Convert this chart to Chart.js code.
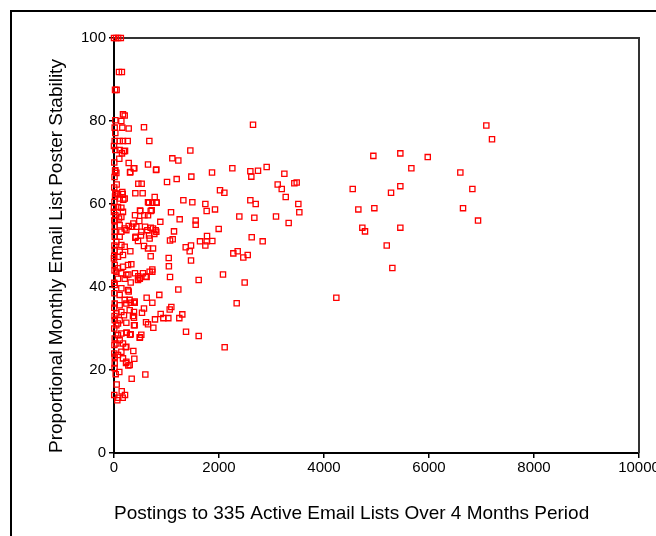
<!DOCTYPE html>
<html>
<head>
<meta charset="utf-8">
<script src="https://cdn.jsdelivr.net/npm/chart.js@4"></script>
<style>
  html, body { margin: 0; padding: 0; background: #fff; }
  #wrap { position: relative; width: 656px; height: 536px; overflow: hidden; }
  #frame { position: absolute; left: 10px; top: 10px; width: 700px; height: 600px;
           border-left: 2px solid #000; border-top: 2px solid #000; }
  #chart { position: absolute; left: 0; top: 0; }
</style>
</head>
<body>
<div id="wrap">
  <div id="frame"></div>
  <canvas id="chart" width="656" height="536"></canvas>
</div>
<script>
// postings per list over 4 months (x) and stability % (y)
const postings = [
  0, 40, 80, 130, 95, 150, 20, 50, 171, 204,
  140, 25, 2648, 13, 158, 280, 571, 25, 673, 13,
  108, 171, 261, 1454, 25, 108, 190, 152, 210, 101,
  1111, 1225, 280, 648, 387, 305, 800, 2254, 2597, 2743,
  2616, 2908, 1867, 1473, 3245, 20, 45, 1194, 1010, 463,
  527, 3435, 3480, 3118, 3195, 3271, 2019, 2102, 406, 546,
  45, 166, 20, 177, 775, 1321, 1492, 1740, 1765, 1924,
  2597, 2699, 3511, 3530, 667, 730, 813, 718, 501, 1086,
  400, 578, 1251, 1556, 1556, 2387, 2673, 3086, 3327, 882,
  368, 482, 1994, 1143, 794, 768, 667, 591, 699, 406,
  514, 1118, 2623, 2832, 1638, 1772, 1766, 1873, 1740, 1366,
  1467, 1442, 2273, 2356, 2463, 2547, 1042, 1045, 1467, 730,
  2076, 2489, 1613, 1067, 730, 622, 495, 463, 400, 273,
  1225, 2337, 863, 622, 730, 1092, 1061, 1035, 940, 1301,
  1244, 889, 781, 749, 571, 533, 610, 648, 381, 381,
  381, 1372, 1613, 2108, 495, 520, 305, 242, 368, 387,
  223, 273, 229, 597, 337, 32, 101, 51, 210, 147,
  63, 82, 166, 7092, 7200, 4940, 5454, 5976, 5664, 6597,
  4547, 5454, 5277, 6826, 4654, 4959, 6648, 6934, 4730, 4781,
  5454, 5195, 5302, 4235, 25, 375, 806, 311, 51, 25,
  76, 158, 204, 108, 648, 806, 699, 495, 648, 0,
  76, 140, 0, 171, 25, 140, 13, 95, 13, 108,
  204, 280, 343, 13, 140, 235, 425, 635, 743, 806,
  520, 1067, 413, 679, 457, 571, 648, 743, 699, 13,
  108, 44, 140, 204, 13, 108, 171, 76, 0, 311,
  13, 76, 171, 267, 330, 44, 140, 235, 457, 552,
  679, 76, 204, 318, 13, 140, 267, 108, 280, 204,
  298, 394, 603, 490, 394, 235, 76, 44, 13, 108,
  490, 318, 235, 140, 76, 13, 108, 171, 44, 235,
  140, 76, 171, 235, 299, 13, 13, 13, 108, 235,
  318, 394, 44, 140, 190, 299, 381, 362, 5, 10,
  5, 0, 8, 5, 8, 5, 10, 5, 8, 5,
  10, 5, 8, 5, 10, 5
];
const stability = [
  100, 100, 100, 100, 91.8, 91.8, 87.5, 87.5, 81.6, 81.3,
  80.0, 80.2, 79.1, 78.4, 78.4, 78.2, 78.5, 77.1, 75.2, 75.2,
  75.2, 75.2, 75.2, 72.9, 73.0, 73.0, 72.7, 72.2, 72.8, 70.9,
  71.0, 70.5, 69.9, 69.5, 68.6, 67.6, 68.2, 68.6, 67.9, 68.0,
  66.6, 68.9, 67.6, 66.6, 67.3, 68.0, 67.5, 66.0, 65.3, 64.9,
  64.9, 65.0, 65.2, 64.7, 63.6, 61.7, 63.3, 62.7, 62.6, 62.6,
  62.5, 62.4, 61.8, 61.0, 61.7, 60.9, 60.4, 60.0, 58.3, 58.7,
  60.9, 60.0, 60.0, 58.0, 60.3, 60.3, 60.3, 58.5, 58.3, 58.0,
  57.3, 57.3, 56.3, 56.0, 55.0, 57.0, 56.7, 57.0, 55.4, 55.7,
  55.3, 55.9, 54.0, 53.4, 53.7, 52.8, 52.4, 54.5, 54.3, 51.9,
  52.4, 51.5, 52.0, 51.0, 51.0, 52.3, 51.0, 51.1, 50.0, 49.6,
  50.0, 48.6, 48.1, 48.6, 47.1, 47.7, 47.0, 45.0, 46.4, 44.2,
  43.0, 41.1, 41.7, 42.4, 43.7, 42.4, 42.2, 42.6, 43.3, 43.0,
  39.4, 36.1, 38.1, 37.4, 36.2, 35.2, 34.6, 32.5, 32.5, 33.4,
  32.5, 33.5, 32.2, 30.2, 34.8, 33.8, 31.5, 31.0, 30.8, 32.6,
  36.2, 29.2, 28.2, 25.5, 27.9, 28.5, 28.5, 29.0, 24.6, 22.7,
  25.5, 21.1, 21.7, 18.9, 17.9, 19.0, 19.5, 16.5, 14.0, 14.9,
  12.7, 13.3, 13.3, 78.9, 75.6, 71.6, 72.2, 71.3, 68.6, 67.6,
  63.6, 64.3, 62.7, 63.6, 58.7, 59.0, 59.0, 56.0, 54.3, 53.4,
  54.3, 50.0, 44.6, 37.4, 68.1, 68.6, 68.3, 67.7, 64.7, 62.5,
  62.3, 62.9, 61.3, 61.3, 60.4, 60.4, 58.3, 58.4, 57.3, 59.1,
  59.3, 59.1, 58.1, 58.1, 57.3, 56.9, 56.1, 56.5, 54.5, 54.9,
  54.1, 54.7, 54.5, 53.3, 53.3, 53.7, 54.5, 53.7, 54.1, 53.3,
  53.3, 51.2, 52.1, 51.7, 51.1, 49.9, 49.3, 49.3, 47.4, 52.1,
  52.1, 50.9, 50.1, 49.7, 48.9, 48.5, 47.7, 47.3, 46.9, 48.6,
  45.3, 44.5, 44.9, 45.3, 45.5, 43.7, 43.3, 42.9, 41.7, 43.3,
  43.7, 42.0, 42.0, 41.1, 40.5, 39.7, 39.3, 38.1, 38.9, 36.9,
  36.9, 36.5, 42.5, 42.0, 30.8, 31.4, 31.2, 30.8, 32.0, 32.0,
  27.8, 28.6, 29.0, 28.8, 28.4, 27.6, 27.2, 26.4, 26.4, 25.6,
  24.4, 23.6, 22.8, 22.0, 21.2, 23.2, 21.6, 36.0, 35.6, 36.0,
  36.2, 36.2, 33.6, 34.0, 33.2, 34.4, 34.0, 33.0, 64, 66.5,
  70, 74, 60.5, 56, 50, 47.5, 44, 41, 38.5, 35,
  33, 30, 26, 24, 20.5, 14
];
const xTicks = [0, 2000, 4000, 6000, 8000, 10000];
const yTicks = [0, 20, 40, 60, 80, 100];
const xTitle = 'Postings to 335 Active Email Lists Over 4 Months Period';
const yTitle = 'Proportional Monthly Email List Poster Stability';

const points = postings.map((x, i) => ({ x: x, y: stability[i] }));
const FONT = "Arial, 'Liberation Sans', sans-serif";

// top and right edges of the plot box
const plotFrame = {
    id: 'plotFrame',
    beforeDatasetsDraw(chart) {
        const { ctx, chartArea: a } = chart;
        ctx.save();
        ctx.strokeStyle = '#333';
        ctx.lineWidth = 2;
        ctx.beginPath();
        ctx.moveTo(a.left, a.top);
        ctx.lineTo(a.right, a.top);
        ctx.lineTo(a.right, a.bottom);
        ctx.stroke();
        ctx.restore();
    }
};

const ctx = document.getElementById('chart').getContext('2d');
new Chart(ctx, {
    type: 'scatter',
    data: {
        datasets: [{
            data: points,
            pointStyle: 'rect',
            pointRadius: 3.7,
            pointBorderWidth: 1.3,
            borderColor: '#ff0000',
            backgroundColor: 'rgba(0,0,0,0)',
            clip: false
        }]
    },
    options: {
        responsive: false,
        animation: false,
        layout: { padding: { top: 38, right: 17, bottom: 0, left: 0 } },
        plugins: {
            legend: { display: false },
            tooltip: { enabled: false }
        },
        scales: {
            x: {
                type: 'linear',
                min: 0,
                max: 10000,
                afterBuildTicks: (scale) => { scale.ticks = xTicks.map(v => ({ value: v })); },
                afterFit: (scale) => { scale.height = 83; scale.paddingLeft = 0; scale.paddingRight = 0; },
                border: { display: true, color: '#000', width: 2 },
                grid: { drawOnChartArea: false, drawTicks: true, tickLength: 5, color: '#000', lineWidth: 1.5 },
                ticks: {
                    color: '#000',
                    padding: 1,
                    maxRotation: 0,
                    autoSkip: false,
                    font: { family: FONT, size: 15 },
                    callback: (v) => String(v)
                },
                title: {
                    display: true,
                    text: xTitle,
                    align: 'start',
                    color: '#000',
                    font: { family: FONT, size: 19 },
                    padding: { top: 0, bottom: 11 }
                }
            },
            y: {
                type: 'linear',
                min: 0,
                max: 100,
                afterBuildTicks: (scale) => { scale.ticks = yTicks.map(v => ({ value: v })); },
                afterFit: (scale) => { scale.width = 114; scale.paddingTop = 0; scale.paddingBottom = 0; },
                border: { display: true, color: '#000', width: 2 },
                grid: { drawOnChartArea: false, drawTicks: true, tickLength: 5, color: '#000', lineWidth: 1.5 },
                ticks: {
                    color: '#000',
                    padding: 3,
                    autoSkip: false,
                    font: { family: FONT, size: 15 },
                    callback: (v) => String(v)
                },
                title: {
                    display: true,
                    text: yTitle,
                    align: 'start',
                    color: '#000',
                    font: { family: FONT, size: 19 },
                    padding: { top: 45, bottom: 0 }
                }
            }
        }
    },
    plugins: [plotFrame]
});
</script>
</body>
</html>
